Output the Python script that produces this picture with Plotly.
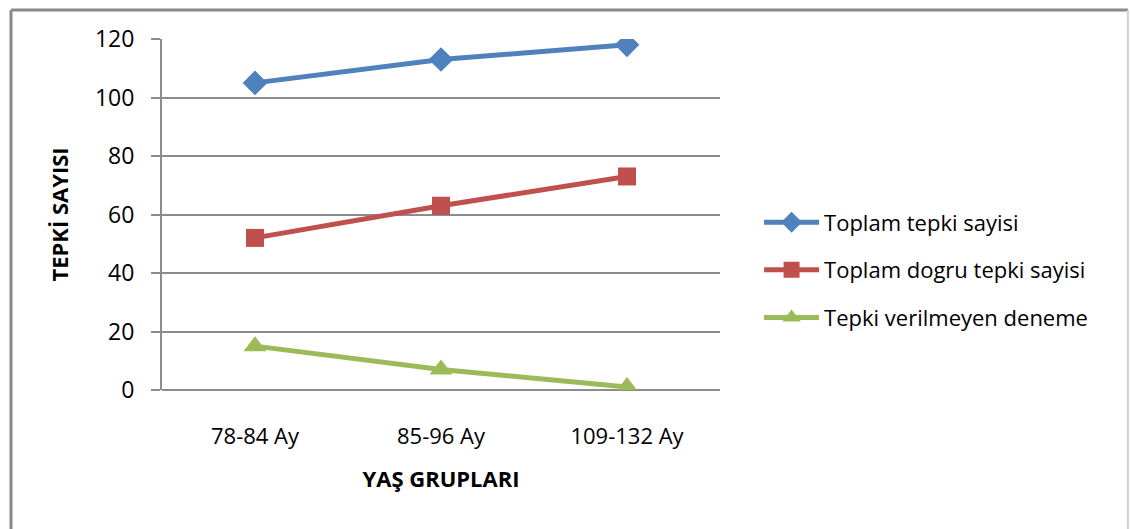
import plotly.graph_objects as go

categories = ["78-84 Ay", "85-96 Ay", "109-132 Ay"]
toplam_tepki = [105, 113, 118]
toplam_dogru = [52, 63, 73]
tepki_verilmeyen = [15, 7, 1]
y_ticks = [0, 20, 40, 60, 80, 100, 120]

FONT = "Open Sans"
GRID = "#8c8c8c"

fig = go.Figure()
series = [
    ("Toplam tepki sayisi", toplam_tepki, "#4F81BD", "diamond", 19),
    ("Toplam dogru tepki sayisi", toplam_dogru, "#C0504D", "square", 18),
    ("Tepki verilmeyen deneme", tepki_verilmeyen, "#9BBB59", "triangle-up", 20),
]
for i, (name, vals, color, sym, size) in enumerate(series):
    fig.add_trace(go.Scatter(
        x=categories, y=vals, name=name, mode="lines+markers",
        line=dict(color=color, width=5),
        marker=dict(symbol=sym, size=size, color=color),
        legendgroup=f"g{i}",
    ))

fig.update_layout(
    width=1130, height=529,
    margin=dict(l=162, r=410, t=39, b=139),
    paper_bgcolor="white", plot_bgcolor="white",
    font=dict(family=FONT, color="#000000", size=22),
    showlegend=True,
    legend=dict(
        x=1.07, y=0.342, xanchor="left", yanchor="middle",
        font=dict(family=FONT, size=22, color="#000000"),
        tracegroupgap=16, itemwidth=55,
        bgcolor="rgba(0,0,0,0)",
    ),
    xaxis=dict(
        type="category", range=[-0.5, 2.5], showgrid=False, ticks="",
        showline=False, zeroline=False,
        tickfont=dict(family=FONT, size=22), ticklabelstandoff=31,
        title=dict(text="<b>YAŞ GRUPLARI</b>", font=dict(family=FONT, size=22), standoff=22),
    ),
    yaxis=dict(
        range=[0, 120], tickvals=y_ticks, showgrid=True, gridcolor=GRID, gridwidth=2,
        zeroline=True, zerolinecolor=GRID, zerolinewidth=2,
        showline=True, linecolor=GRID, linewidth=2,
        ticks="outside", ticklen=9, tickcolor=GRID, tickwidth=2,
        tickfont=dict(family=FONT, size=23), ticklabelstandoff=12,
        title=dict(text="<b>TEPKİ SAYISI</b>", font=dict(family=FONT, size=22), standoff=20),
    ),
    shapes=[
        dict(type="line", xref="paper", yref="paper", x0=-0.2706, x1=-0.2706, y0=-0.45, y1=1.0826,
             line=dict(color="#8a8a8a", width=3)),
        dict(type="line", xref="paper", yref="paper", x0=-0.2706, x1=1.731, y0=1.0826, y1=1.0826,
             line=dict(color="#8a8a8a", width=3)),
        dict(type="line", xref="paper", yref="paper", x0=1.731, x1=1.731, y0=-0.45, y1=1.0826,
             line=dict(color="#d0d0d0", width=2)),
    ],
)

fig.write_html("out.html")
